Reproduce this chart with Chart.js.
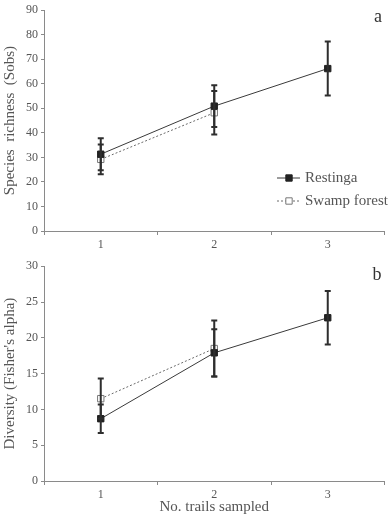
<!DOCTYPE html>
<html>
<head>
<meta charset="utf-8">
<script src="https://cdn.jsdelivr.net/npm/chart.js@4.4.1/dist/chart.umd.min.js"></script>
<style>
  html, body { margin: 0; padding: 0; background: #fff; }
  #wrap { position: relative; width: 390px; height: 516px; }
  .box { position: absolute; left: 0; width: 390px; }
  #b1 { top: 0; height: 256px; }
  #b2 { top: 256px; height: 260px; }
</style>
</head>
<body>
<div id="wrap">
  <div class="box" id="b1"><canvas id="c1" width="390" height="256"></canvas></div>
  <div class="box" id="b2"><canvas id="c2" width="390" height="260"></canvas></div>
</div>
<script>
// ---- data ----
const categories = ['1', '2', '3'];
const seriesNames = ['Restinga', 'Swamp forest'];

const richRestinga = [31.3, 50.9, 66.2];
const richRestingaErr = [6.5, 8.5, 11.0];
const richSwamp = [29.2, 48.2, null];
const richSwampErr = [6.1, 8.9, null];

const divRestinga = [8.7, 17.9, 22.8];
const divRestingaErr = [2.0, 3.3, 3.75];
const divSwamp = [11.5, 18.5, null];
const divSwampErr = [2.8, 3.9, null];

const richTicks = [0, 10, 20, 30, 40, 50, 60, 70, 80, 90];
const divTicks = [0, 5, 10, 15, 20, 25, 30];

// ---- styles ----
const SERIF = "'Liberation Serif', 'Times New Roman', serif";
const AXIS = '#8a8a8a';
const TXT = '#555';

const errorBars = {
  id: 'errorBars',
  afterDatasetsDraw(chart) {
    const ctx = chart.ctx;
    const x = chart.scales.x, y = chart.scales.y;
    ctx.save();
    ctx.strokeStyle = '#2e2e2e';
    ctx.lineWidth = 2;
    chart.data.datasets.forEach((ds) => {
      ds.data.forEach((v, i) => {
        const e = ds.errors[i];
        if (v == null || e == null) return;
        const px = x.getPixelForValue(i);
        const top = y.getPixelForValue(v + e);
        const bot = y.getPixelForValue(v - e);
        ctx.beginPath();
        ctx.moveTo(px, top); ctx.lineTo(px, bot);
        ctx.moveTo(px - 3, top); ctx.lineTo(px + 3, top);
        ctx.moveTo(px - 3, bot); ctx.lineTo(px + 3, bot);
        ctx.stroke();
      });
    });
    ctx.restore();
  }
};

const panelLabel = {
  id: 'panelLabel',
  afterDraw(chart, args, opts) {
    const ctx = chart.ctx;
    ctx.save();
    ctx.fillStyle = '#333';
    ctx.font = '18px ' + SERIF;
    ctx.textAlign = 'center';
    ctx.textBaseline = 'middle';
    ctx.fillText(opts.text, opts.x, opts.y);
    if (opts.legend) {
      chart.data.datasets.forEach((ds, k) => {
        const ly = opts.legendY + k * 23;
        ctx.strokeStyle = ds.borderColor;
        ctx.lineWidth = 1;
        ctx.setLineDash(ds.borderDash || []);
        ctx.beginPath();
        ctx.moveTo(opts.legendX, ly); ctx.lineTo(opts.legendX + 23, ly);
        ctx.stroke();
        ctx.setLineDash([]);
        ctx.fillStyle = ds.pointBackgroundColor;
        ctx.strokeStyle = ds.pointBorderColor;
        ctx.lineWidth = ds.pointBorderWidth;
        ctx.beginPath();
        const s = ds.pointRadius * Math.SQRT1_2;
        ctx.rect(opts.legendX + 12 - s, ly - s, 2 * s, 2 * s);
        ctx.fill(); ctx.stroke();
        ctx.fillStyle = TXT;
        ctx.font = '15px ' + SERIF;
        ctx.textAlign = 'left';
        ctx.fillText(seriesNames[k], opts.legendX + 28, ly);
      });
    }
    ctx.restore();
  }
};

function makeDatasets(r, rErr, s, sErr) {
  return [
    {
      label: seriesNames[0], data: r, errors: rErr,
      borderColor: '#3a3a3a', borderWidth: 1,
      pointStyle: 'rect', pointRadius: 4.5, pointBorderWidth: 1,
      pointBackgroundColor: '#222', pointBorderColor: '#222',
      tension: 0, spanGaps: false
    },
    {
      label: seriesNames[1], data: s, errors: sErr,
      borderColor: '#6a6a6a', borderWidth: 1, borderDash: [2, 2],
      pointStyle: 'rect', pointRadius: 4.5, pointBorderWidth: 1,
      pointBackgroundColor: '#ffffff', pointBorderColor: '#777',
      tension: 0, spanGaps: false
    }
  ];
}

function makeOptions(cfg) {
  return {
    responsive: false,
    animation: false,
    events: [],
    layout: { padding: { top: cfg.padTop, right: 3, left: 0, bottom: 0 } },
    plugins: {
      legend: { display: false },
      tooltip: { enabled: false },
      panelLabel: cfg.label
    },
    scales: {
      x: {
        type: 'category',
        offset: true,
        grid: { display: true, offset: true, drawOnChartArea: false, drawTicks: true, tickLength: 4, color: AXIS },
        border: { display: true, color: AXIS, width: 1 },
        ticks: { color: TXT, font: { family: SERIF, size: 12 }, padding: 3, maxRotation: 0 },
        title: cfg.xTitle ? { display: true, text: cfg.xTitle, color: TXT, font: { family: SERIF, size: 15, lineHeight: 1.0 }, padding: { top: 0, bottom: 1 } } : { display: false },
        afterFit(s) { s.height = cfg.xHeight; }
      },
      y: {
        min: cfg.ticks[0], max: cfg.ticks[cfg.ticks.length - 1],
        afterBuildTicks(s) { s.ticks = cfg.ticks.map(v => ({ value: v })); },
        grid: { display: true, drawOnChartArea: false, drawTicks: true, tickLength: 3, color: AXIS },
        border: { display: true, color: AXIS, width: 1 },
        ticks: { color: TXT, font: { family: SERIF, size: 12 }, padding: 3 },
        title: { display: true, text: cfg.yTitle, color: TXT, font: { family: SERIF, size: 15, lineHeight: 1.2 }, padding: { top: 1, bottom: 0 } },
        afterFit(s) { s.width = 44; }
      }
    }
  };
}

new Chart(document.getElementById('c1'), {
  type: 'line',
  data: { labels: categories, datasets: makeDatasets(richRestinga, richRestingaErr, richSwamp, richSwampErr) },
  options: makeOptions({
    padTop: 10, xHeight: 25, ticks: richTicks,
    yTitle: 'Species  richness  (Sobs)',
    label: { text: 'a', x: 378, y: 17, legend: true, legendX: 277, legendY: 178 }
  }),
  plugins: [errorBars, panelLabel]
});

new Chart(document.getElementById('c2'), {
  type: 'line',
  data: { labels: categories, datasets: makeDatasets(divRestinga, divRestingaErr, divSwamp, divSwampErr) },
  options: makeOptions({
    padTop: 6, xHeight: 35, ticks: divTicks,
    yTitle: "Diversity (Fisher's alpha)", xTitle: 'No. trails sampled',
    label: { text: 'b', x: 377, y: 19, legend: false }
  }),
  plugins: [errorBars, panelLabel]
});
</script>
</body>
</html>
